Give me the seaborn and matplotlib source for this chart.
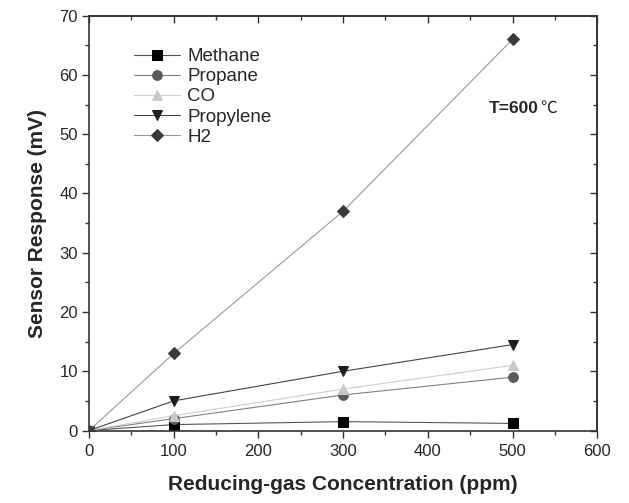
import numpy as np
import pandas as pd
import matplotlib
matplotlib.use("Agg")
import matplotlib.pyplot as plt
import seaborn as sns
from matplotlib.ticker import MultipleLocator, NullFormatter

# Data
conc = [0, 100, 300, 500]
methane = [0, 1.0, 1.5, 1.2]
propane = [0, 2.0, 6.0, 9.0]
co = [0, 2.5, 7.0, 11.0]
propylene = [0, 5.0, 10.0, 14.5]
h2 = [0, 13.0, 37.0, 66.0]

gases = ["Methane", "Propane", "CO", "Propylene", "H2"]
values = [methane, propane, co, propylene, h2]
markers = ["s", "o", "^", "v", "D"]
msizes = [6.5, 7, 7, 7.5, 6.5]
colors = ["#000000", "#5a5a5a", "#c8c8c8", "#1e1e1e", "#3a3a3a"]
line_colors = ["#555555", "#808080", "#cccccc", "#444444", "#999999"]

df = pd.DataFrame({
    "conc": conc * len(gases),
    "resp": sum(values, []),
    "gas": np.repeat(gases, len(conc)),
})

sns.set_style("ticks")
plt.rcParams["font.family"] = ["Liberation Sans", "DejaVu Sans"]

fig = plt.figure(figsize=(6.29, 5.03), dpi=100)
ax = fig.add_axes([0.1415, 0.1441, 0.808, 0.8247])

for g, m, ms, c, lc in zip(gases, markers, msizes, colors, line_colors):
    sub = df[df["gas"] == g]
    sns.lineplot(data=sub, x="conc", y="resp", ax=ax, color=lc, lw=0.8,
                 marker=m, markersize=ms, markerfacecolor=c, markeredgecolor=c,
                 label=g)

ax.set_xlim(0, 600)
ax.set_ylim(0, 70)
ax.xaxis.set_major_locator(MultipleLocator(100))
ax.xaxis.set_minor_locator(MultipleLocator(50))
ax.yaxis.set_major_locator(MultipleLocator(10))
ax.yaxis.set_minor_locator(MultipleLocator(5))
ax.tick_params(which="both", direction="out", labelsize=12, width=1, color="#333333")
ax.tick_params(which="major", length=5)
ax.tick_params(which="minor", length=3)
ax.tick_params(axis="x", pad=5)
ax.tick_params(axis="y", pad=3)

# inward ticks on top and right
top = ax.secondary_xaxis("top")
right = ax.secondary_yaxis("right")
top.xaxis.set_major_locator(MultipleLocator(100))
top.xaxis.set_minor_locator(MultipleLocator(50))
right.yaxis.set_major_locator(MultipleLocator(10))
right.yaxis.set_minor_locator(MultipleLocator(5))
for sec in [top, right]:
    sec.tick_params(which="both", direction="in", width=1, color="#333333")
    sec.tick_params(which="major", length=5)
    sec.tick_params(which="minor", length=3)
top.xaxis.set_major_formatter(NullFormatter())
right.yaxis.set_major_formatter(NullFormatter())
for s in list(ax.spines.values()) + [top.spines["top"], right.spines["right"]]:
    s.set_linewidth(1.2)
    s.set_color("#333333")

ax.set_xlabel("Reducing-gas Concentration (ppm)", fontsize=15, fontweight="bold", labelpad=11)
ax.set_ylabel("Sensor Response (mV)", fontsize=15, fontweight="bold", labelpad=9)

t = ax.text(472, 54.4, "T=600", fontsize=12.5, fontweight="bold", va="center")
ax.annotate("\u2103", xy=(1, 0.5), xycoords=t, xytext=(1, 0), textcoords="offset points",
            va="center", fontsize=12, family=["Noto Sans CJK SC", "DejaVu Sans"],
            fontweight="light")

ax.legend(loc="upper left", bbox_to_anchor=(0.073, 0.94), frameon=False,
          fontsize=13.5, handlelength=2.5, labelspacing=0.16, handletextpad=0.35,
          borderaxespad=0)

fig.savefig("out.png", dpi=100)
